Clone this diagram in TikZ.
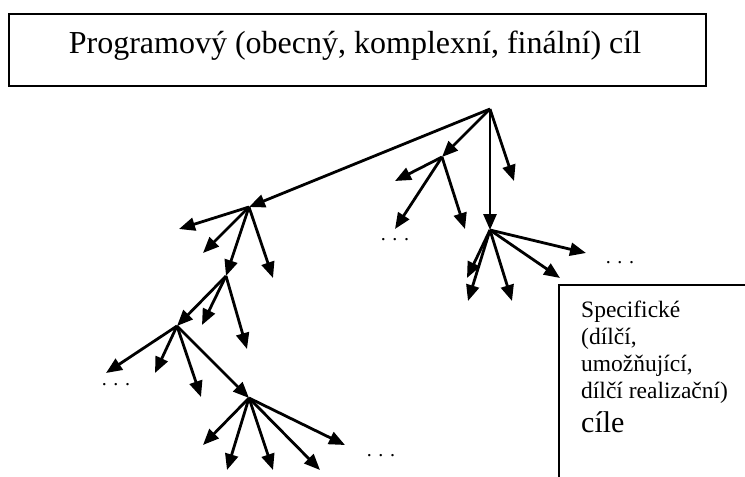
\documentclass[tikz,border=0pt]{standalone}
\usepackage{fontspec}
\setmainfont{Liberation Serif}
\usetikzlibrary{arrows.meta}
\tikzset{
  arr/.style={line width=2.8pt,-{Triangle[length=16pt,width=13pt]}},
  frame/.style={draw,line width=1.6pt},
  dots/.style={font=\fontsize{20}{22}\selectfont,inner sep=0pt}
}
\begin{document}
\begin{tikzpicture}[x=1pt,y=-1pt]
\useasboundingbox (0,0) rectangle (745,477);
% top box
\node[frame,minimum width=697pt,minimum height=72pt,inner sep=0pt] (topbox) at (357.5,50) {};
\node[inner sep=0pt,font=\fontsize{32}{36}\selectfont] (top) at (355,46) {Programový (obecný, komplexní, finální) cíl};
% right box
\draw[line width=1.5pt] (559,477) -- (559,285) -- (745,285);
\node[anchor=north west,align=left,inner sep=0pt,
  font=\fontsize{23.5}{27}\selectfont] (spec) at (581,301)
  {Specifické\\(dílčí,\\umožňující,\\dílčí realizační)\\[7pt]{\fontsize{30}{34}\selectfont cíle}};
% tree points
\coordinate (R) at (490,109);
\coordinate (A) at (249,207);
\coordinate (B) at (442,157);
\coordinate (C) at (490,230);
\coordinate (D) at (226,276);
\coordinate (E) at (177,326);
\coordinate (F) at (249,398);
% root
\draw[arr] (R) -- (A);
\draw[arr] (R) -- (B);
\draw[arr] (R) -- (C);
\coordinate (r1) at (514,181); \draw[arr] (R) -- (r1);
% B
\coordinate (b1) at (395,181); \draw[arr] (B) -- (b1);
\coordinate (b2) at (395,229); \draw[arr] (B) -- (b2);
\coordinate (b3) at (465,229); \draw[arr] (B) -- (b3);
% C
\coordinate (c1) at (467,278); \draw[arr] (C) -- (c1);
\coordinate (c2) at (468,301); \draw[arr] (C) -- (c2);
\coordinate (c3) at (512,301); \draw[arr] (C) -- (c3);
\coordinate (c4) at (560,278); \draw[arr] (C) -- (c4);
\coordinate (c5) at (586,253); \draw[arr] (C) -- (c5);
% A
\coordinate (a1) at (179,229); \draw[arr] (A) -- (a1);
\coordinate (a2) at (203,253); \draw[arr] (A) -- (a2);
\draw[arr] (A) -- (D);
\coordinate (a4) at (273,278); \draw[arr] (A) -- (a4);
% D
\draw[arr] (D) -- (E);
\coordinate (d2) at (202,325); \draw[arr] (D) -- (d2);
\coordinate (d3) at (247,349); \draw[arr] (D) -- (d3);
% E
\coordinate (e1) at (106,373); \draw[arr] (E) -- (e1);
\coordinate (e2) at (155,373); \draw[arr] (E) -- (e2);
\coordinate (e3) at (201,397); \draw[arr] (E) -- (e3);
\draw[arr] (E) -- (F);
% F
\coordinate (f1) at (203,445); \draw[arr] (F) -- (f1);
\coordinate (f2) at (227,470); \draw[arr] (F) -- (f2);
\coordinate (f3) at (273,470); \draw[arr] (F) -- (f3);
\coordinate (f4) at (320,470); \draw[arr] (F) -- (f4);
\coordinate (f5) at (345,445); \draw[arr] (F) -- (f5);
% dots
\node[dots] (dB) at (395,240) {. . .};
\node[dots] (dC) at (620,263) {. . .};
\node[dots] (dE) at (116,385) {. . .};
\node[dots] (dF) at (381,456) {. . .};
\end{tikzpicture}
\end{document}
